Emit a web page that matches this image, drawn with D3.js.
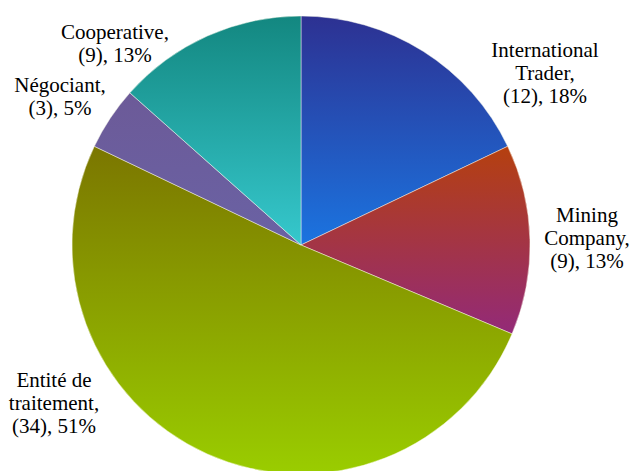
<!DOCTYPE html>
<html><head><meta charset="utf-8"><script src="https://cdn.jsdelivr.net/npm/d3@7"></script></head>
<body style="margin:0">
<svg id="chart" width="631" height="471"></svg>
<script>
// ---- data ----
const categories = ["International Trader", "Mining Company", "Entité de traitement", "Négociant", "Cooperative"];
const values = [12, 9, 34, 3, 9];
const percentLabels = ["18%", "13%", "51%", "5%", "13%"];
// label lines (category text split as in the original)
const labelLines = [
  ["International", "Trader,"],
  ["Mining", "Company,"],
  ["Entité de", "traitement,"],
  ["Négociant,"],
  ["Cooperative,"]
];

// ---- layout / style ----
const cx = 301, cy = 245, R = 229;
const gradTop = ["#2d3192", "#b5400f", "#7b7600", "#6c5a98", "#138780"];
const gradBot = ["#1b74e0", "#932a78", "#9acd00", "#6a62a4", "#36c8cd"];
// label centres (x, y of first line) and line height
const labelPos = [[545, 50], [587, 215], [54, 380], [60, 85], [115, 32]];
const lineH = 23;

const svg = d3.select("#chart");

const defs = svg.append("defs");
categories.forEach((c, i) => {
  const g = defs.append("linearGradient")
    .attr("id", "grad" + i)
    .attr("x1", 0).attr("y1", 0).attr("x2", 0).attr("y2", 1);
  g.append("stop").attr("offset", "0%").attr("stop-color", gradTop[i]);
  g.append("stop").attr("offset", "100%").attr("stop-color", gradBot[i]);
});

const pie = d3.pie().sort(null).value(d => d).startAngle(0).endAngle(2 * Math.PI);
const arcs = pie(values);
const arc = d3.arc().innerRadius(0).outerRadius(R);

svg.append("g").attr("transform", `translate(${cx},${cy})`)
  .selectAll("path")
  .data(arcs)
  .join("path")
  .attr("d", arc)
  .attr("fill", (d, i) => `url(#grad${i})`)
  .attr("stroke", "rgba(255,255,240,0.45)")
  .attr("stroke-width", 1);

// labels: one text element per line, centred manually (start anchor)
categories.forEach((c, i) => {
  const lines = labelLines[i].concat([`(${values[i]}), ${percentLabels[i]}`]);
  lines.forEach((ln, k) => {
    const t = svg.append("text")
      .style("font-family", '"Liberation Serif"')
      .style("font-size", "21px")
      .attr("x", labelPos[i][0])
      .attr("y", labelPos[i][1] + k * lineH + 7)
      .text(ln);
    const w = t.node().getComputedTextLength();
    t.attr("x", labelPos[i][0] - w / 2);
  });
});
</script>
</body></html>
